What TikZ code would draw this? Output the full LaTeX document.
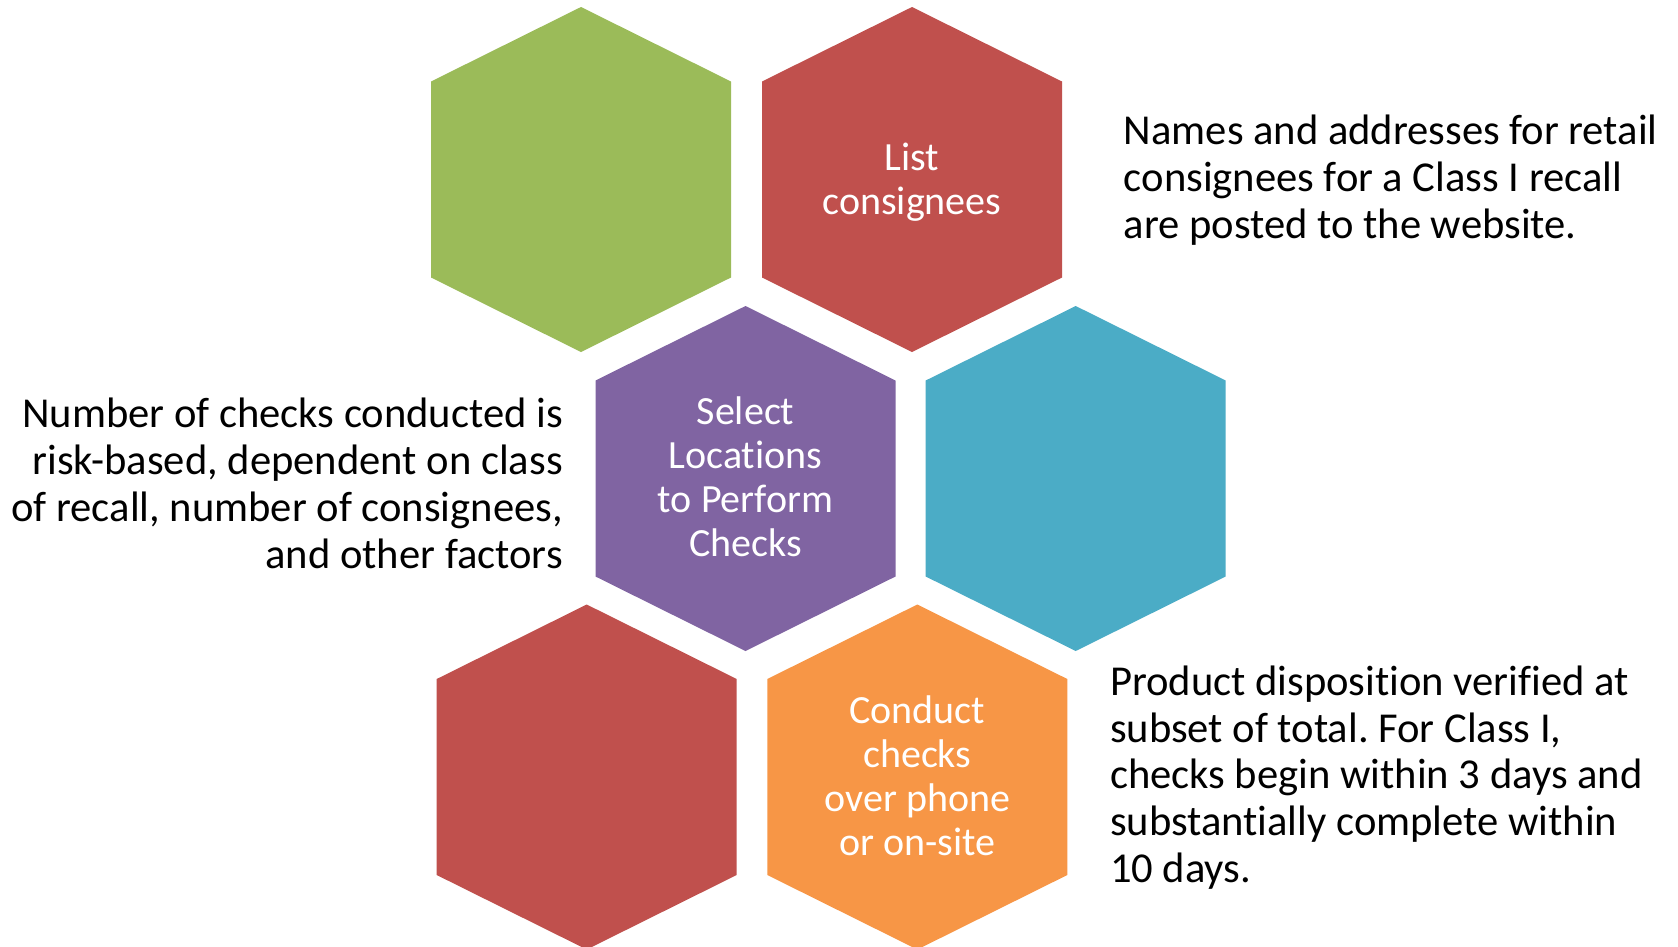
\documentclass[tikz,border=0pt]{standalone}
\usepackage{fontspec}
\setmainfont{Carlito}[Ligatures=NoCommon]
\definecolor{hgreen}{HTML}{9BBB59}
\definecolor{hred}{HTML}{C0504D}
\definecolor{hpurple}{HTML}{8064A2}
\definecolor{hcyan}{HTML}{4BACC6}
\definecolor{horange}{HTML}{F79646}
\newcommand\hexfill[4]{% name, cx, cy, color
  \fill[#4, shift={(#2,#3)}] (0,-172.5) -- (150,-98) -- (150,98) -- (0,172.5) -- (-150,98) -- (-150,-98) -- cycle;
  \coordinate (#1) at (#2,#3);
}
\tikzset{
  hextext/.style={text=white, align=center, font=\fontsize{40}{44}\selectfont\frenchspacing, inner sep=0pt},
  sidetext/.style={text=black, font=\fontsize{42.6}{46.8}\selectfont\frenchspacing, inner sep=0pt}
}
\begin{document}
\begin{tikzpicture}[x=1pt,y=-1pt]
\useasboundingbox (0,0) rectangle (1678,946);
\clip (0,0) rectangle (1678,946);
\fill[white] (0,0) rectangle (1678,946);
\hexfill{green}{581}{179.5}{hgreen}
\hexfill{redtop}{912}{179.5}{hred}
\hexfill{purple}{745.5}{478.5}{hpurple}
\hexfill{cyan}{1075.7}{478.5}{hcyan}
\hexfill{redbot}{586.7}{777}{hred}
\hexfill{orange}{917.3}{777}{horange}
\node[hextext] (t1) at ([yshift=-3]redtop) {List\\consignees};
\node[hextext] (t2) at ([yshift=1.5]purple) {Select\\Locations\\to Perform\\Checks};
\node[hextext] (t3) at ([yshift=1.5]orange) {Conduct\\checks\\over phone\\or on-site};
\node[sidetext, anchor=west, align=left] (s1) at (1123.7,180) {Names and addresses for retail\\consignees for a Class I recall\\are posted to the website.};
\node[sidetext, anchor=east, align=right] (s2) at (563,483.5) {Number of checks conducted is\\risk-based, dependent on class\\of recall, number of consignees,\\and other factors};
\node[sidetext, anchor=west, align=left] (s3) at (1109.8,777.5) {Product disposition verified at\\subset of total. For Class I,\\checks begin within 3 days and\\substantially complete within\\10 days.};
\end{tikzpicture}
\end{document}
